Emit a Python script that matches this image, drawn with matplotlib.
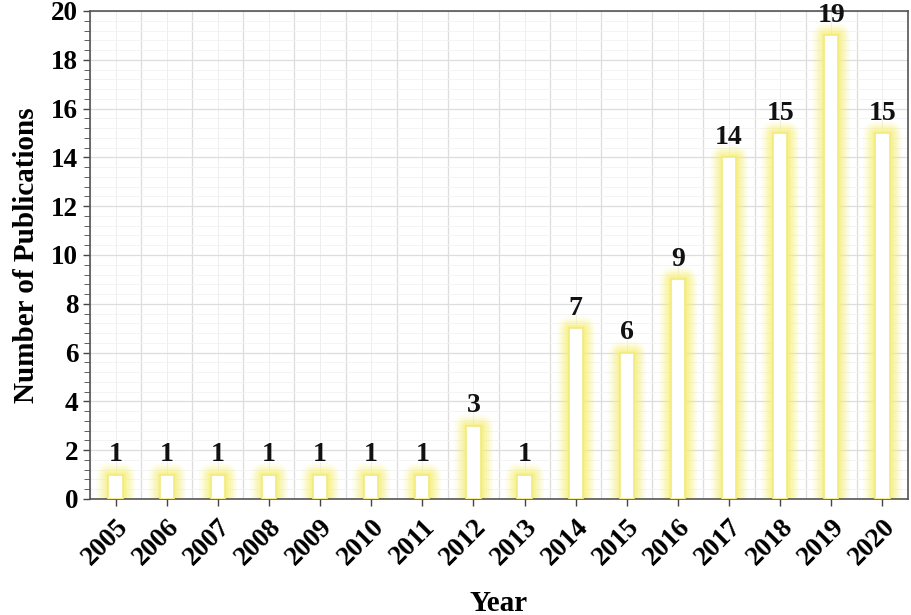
import matplotlib.pyplot as plt
from matplotlib.ticker import MultipleLocator
import numpy as np

years = ['2005', '2006', '2007', '2008', '2009', '2010', '2011', '2012',
         '2013', '2014', '2015', '2016', '2017', '2018', '2019', '2020']
counts = [1, 1, 1, 1, 1, 1, 1, 3, 1, 7, 6, 9, 14, 15, 19, 15]

plt.rcParams['font.family'] = ['Liberation Serif', 'DejaVu Serif']
plt.rcParams['font.weight'] = 'bold'

fig = plt.figure(figsize=(9.12, 6.15), dpi=100)
ax = fig.add_axes([90 / 912, 1 - 499 / 615, 818 / 912, 488 / 615])

x = np.arange(len(years))
w = 0.28

# soft yellow glow around the bars
for lw, a in [(17, 0.12), (14, 0.15), (11, 0.2), (8, 0.28), (5, 0.38), (2.5, 0.5)]:
    ax.bar(x, counts, width=w, color='none', edgecolor='#f7f07a', linewidth=lw,
           alpha=a, joinstyle='round', zorder=2)
ax.bar(x, counts, width=w, color='white', edgecolor='#f2ea80', linewidth=1.2, zorder=3)

for xi, c in zip(x, counts):
    ax.text(xi, c + 0.3, str(c), ha='center', va='bottom', fontsize=20,
            fontweight='bold', color='#111111', zorder=4)

ax.set_xlim(-0.5, len(years) - 0.5)
ax.set_ylim(0, 20)
ax.set_xticks(x)
ax.set_xticklabels(years, rotation=45, ha='right', rotation_mode='anchor')
ax.set_xticks(np.arange(-0.5, len(years), 1), minor=True)
ax.yaxis.set_major_locator(MultipleLocator(2))
ax.yaxis.set_minor_locator(MultipleLocator(0.4))

ax.tick_params(axis='both', which='major', labelsize=19.5, color='#444444',
               direction='out', length=5, width=1)
ax.tick_params(axis='x', which='major', pad=6)
ax.tick_params(axis='y', which='minor', direction='out', length=4, color='#444444')
ax.tick_params(axis='x', which='minor', length=0)

ax.grid(True, which='minor', axis='x', color='#dddddd', linewidth=0.9, zorder=0)
ax.grid(True, which='major', axis='x', color='#eeeeee', linewidth=0.7, zorder=0)
ax.grid(True, which='major', axis='y', color='#dddddd', linewidth=0.9, zorder=0)
ax.grid(True, which='minor', axis='y', color='#f2f2f2', linewidth=0.6, zorder=0)
ax.set_axisbelow(True)

for s in ax.spines.values():
    s.set_color('#555555')
    s.set_linewidth(1.2)

ax.set_xlabel('Year', fontsize=21, fontweight='bold', labelpad=14)
ax.set_ylabel('Number of Publications', fontsize=21, fontweight='bold', labelpad=8)

fig.savefig('out.png', dpi=100)
